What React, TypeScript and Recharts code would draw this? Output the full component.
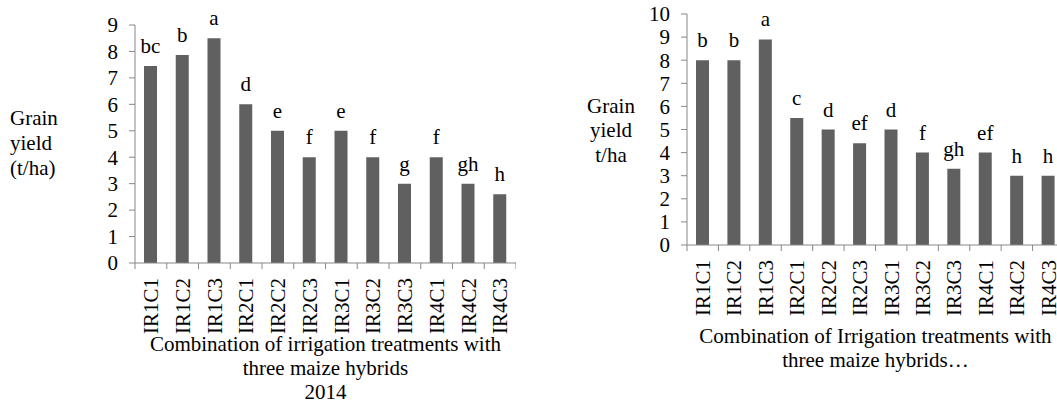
import { BarChart, Bar, XAxis, YAxis, LabelList } from 'recharts'

const treatments = ['IR1C1', 'IR1C2', 'IR1C3', 'IR2C1', 'IR2C2', 'IR2C3', 'IR3C1', 'IR3C2', 'IR3C3', 'IR4C1', 'IR4C2', 'IR4C3']

const yield2014 = [7.45, 7.87, 8.5, 6.0, 5.0, 4.0, 5.0, 4.0, 3.0, 4.0, 3.0, 2.6]
const letters2014 = ['bc', 'b', 'a', 'd', 'e', 'f', 'e', 'f', 'g', 'f', 'gh', 'h']
const ticks2014 = [0, 1, 2, 3, 4, 5, 6, 7, 8, 9]

const yield2015 = [8.0, 8.0, 8.9, 5.5, 5.0, 4.4, 5.0, 4.0, 3.3, 4.0, 3.0, 3.0]
const letters2015 = ['b', 'b', 'a', 'c', 'd', 'ef', 'd', 'f', 'gh', 'ef', 'h', 'h']
const ticks2015 = [0, 1, 2, 3, 4, 5, 6, 7, 8, 9, 10]

const FONT = "'Liberation Serif', 'Times New Roman', serif"
const FS = 21
const AXIS = '#878787'
const BAR = '#606060'

// rotated category label + tick marks on the band edges
const CategoryTick = ({ x, y, payload, index, visibleTicksCount }: any) => {
  const half = payload?.offset ?? 0
  const last = index === (visibleTicksCount ?? 12) - 1
  return (
    <g>
      <line x1={x - half} x2={x - half} y1={y} y2={y + 6} stroke={AXIS} />
      {last && <line x1={x + half} x2={x + half} y1={y} y2={y + 6} stroke={AXIS} />}
      <text x={0} y={0} dy="0.35em" textAnchor="end" fontSize={FS} fontFamily={FONT} fill="#000"
        transform={`translate(${x},${y + 15}) rotate(-90)`}>
        {payload.value}
      </text>
    </g>
  )
}

const ValueTick = ({ x, y, payload }: any) => (
  <text x={x} y={y} dy="0.35em" textAnchor="end" fontSize={FS} fontFamily={FONT} fill="#000">
    {payload.value}
  </text>
)

const MultiLine = ({ lines, x, y, gap, anchor = 'middle' }: any) => (
  <text x={x} y={y} textAnchor={anchor} fontSize={FS} fontFamily={FONT} fill="#000">
    {lines.map((l: string, i: number) => (
      <tspan key={i} x={x} dy={i === 0 ? 0 : gap}>{l}</tspan>
    ))}
  </text>
)

function YieldChart({ values, letters, ticks, max, width, top, bottom, yWidth, xTitle, xTitleDy, yTitle, yTitleX, yAnchor, yTitleDy, yGap }: any) {
  const data = treatments.map((t, i) => ({ name: t, value: values[i], letter: letters[i] }))
  return (
    <BarChart width={width} height={406} data={data} barSize={13}
      margin={{ top, right: 0, left: 0, bottom: 0 }} style={{ fontFamily: FONT }}>
      <XAxis dataKey="name" interval={0} stroke={AXIS} tickLine={false} tickSize={0} tickMargin={0} height={bottom}
        tick={<CategoryTick />}
        label={{
          content: ({ viewBox }: any) => (
            <MultiLine lines={xTitle} x={viewBox.x + viewBox.width / 2} y={viewBox.y + xTitleDy} gap={24} />
          ),
        }} />
      <YAxis domain={[0, max]} ticks={ticks} interval={0} width={yWidth} stroke={AXIS} tickSize={6} tickMargin={11}
        tick={<ValueTick />}
        label={{
          content: ({ viewBox }: any) => (
            <MultiLine lines={yTitle} x={yTitleX} y={viewBox.y + viewBox.height / 2 + yTitleDy} gap={yGap} anchor={yAnchor} />
          ),
        }} />
      <Bar dataKey="value" fill={BAR} isAnimationActive={false}>
        <LabelList dataKey="letter" position="top" offset={13} fill="#000" fontSize={FS} fontFamily={FONT} />
      </Bar>
    </BarChart>
  )
}

export default function App() {
  return (
    <div style={{ position: 'absolute', left: 0, top: 0, width: 1057, height: 406, overflow: 'hidden', background: '#fff', fontFamily: FONT }}>
      <div style={{ position: 'absolute', left: 0, top: 0 }}>
        <YieldChart values={yield2014} letters={letters2014} ticks={ticks2014} max={9}
          width={516} top={25} bottom={143} yWidth={135}
          xTitle={['Combination of irrigation treatments with', 'three maize hybrids', '2014']} xTitleDy={88}
          yTitle={['Grain', 'yield', '(t/ha)']} yTitleX={10} yAnchor="start" yTitleDy={-19} yGap={25} />
      </div>
      <div style={{ position: 'absolute', left: 530, top: 0 }}>
        <YieldChart values={yield2015} letters={letters2015} ticks={ticks2015} max={10}
          width={534} top={14} bottom={161} yWidth={157}
          xTitle={['Combination of Irrigation treatments with', 'three maize hybrids…']} xTitleDy={98}
          yTitle={['Grain', 'yield', 't/ha']} yTitleX={81} yAnchor="middle" yTitleDy={-17} yGap={24.5} />
      </div>
    </div>
  )
}
